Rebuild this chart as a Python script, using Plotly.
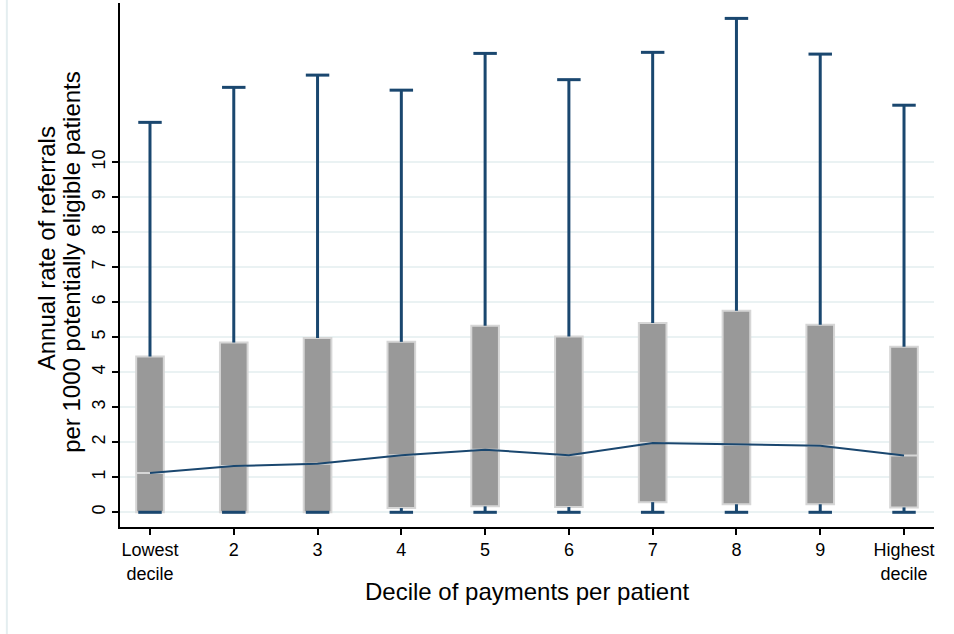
import plotly.graph_objects as go

# ---- data ----
categories = ["Lowest<br>decile", "2", "3", "4", "5", "6", "7", "8", "9", "Highest<br>decile"]
q1_vals = [0.0, 0.0, 0.0, 0.12, 0.17, 0.15, 0.29, 0.23, 0.23, 0.14]
median_vals = [1.12, 1.32, 1.39, 1.63, 1.79, 1.63, 1.98, 1.93, 1.90, 1.62]
q3_vals = [4.45, 4.85, 4.98, 4.87, 5.33, 5.02, 5.41, 5.76, 5.36, 4.73]
upper_vals = [11.14, 12.14, 12.49, 12.06, 13.11, 12.36, 13.14, 14.11, 13.09, 11.63]
lower_vals = [0.0] * 10
y_ticks = list(range(0, 11))
x_title = "Decile of payments per patient"
y_title_lines = ["Annual rate of referrals", "per 1000 potentially eligible patients"]

NAVY = "#1a476f"
FONT = "Liberation Sans, Arial, Helvetica, sans-serif"
positions = list(range(len(categories)))
CAP = 0.14  # half-width of whisker caps (x units)

fig = go.Figure()

# boxes (q1..q3 with median)
fig.add_trace(go.Box(
    x=positions, q1=q1_vals, median=median_vals, q3=q3_vals,
    lowerfence=q1_vals, upperfence=q3_vals,
    width=0.33, whiskerwidth=0, boxpoints=False,
    fillcolor="#999999", line=dict(color="#d6d6d6", width=2),
    hoverinfo="skip", showlegend=False,
))

# whiskers with caps
wx, wy = [], []
for p, lo, a, b, hi in zip(positions, lower_vals, q1_vals, q3_vals, upper_vals):
    wx += [p, p, None, p - CAP, p + CAP, None, p, p, None, p - CAP, p + CAP, None]
    wy += [b, hi, None, hi, hi, None, a, lo, None, lo, lo, None]
fig.add_trace(go.Scatter(
    x=wx, y=wy, mode="lines", line=dict(color=NAVY, width=3),
    hoverinfo="skip", showlegend=False,
))

# median line
fig.add_trace(go.Scatter(
    x=positions, y=median_vals, mode="lines",
    line=dict(color=NAVY, width=2), showlegend=False,
))

fig.update_layout(
    width=954, height=634,
    margin=dict(l=120, r=20, t=3, b=107),
    paper_bgcolor="white", plot_bgcolor="white",
    font=dict(family=FONT, color="black"),
    showlegend=False,
    xaxis=dict(
        range=[-0.358, 9.358], tickmode="array", tickvals=positions, ticktext=categories,
        showgrid=False, zeroline=False, showline=True, linecolor="black", linewidth=1.5,
        ticks="outside", ticklen=6, tickcolor="black", tickwidth=1.5,
        tickfont=dict(size=18, family=FONT), automargin=False,
    ),
    yaxis=dict(
        range=[-0.42, 14.55], tickmode="array", tickvals=y_ticks,
        ticktext=[str(v) for v in y_ticks],
        showgrid=True, gridcolor="#eaf2f3", gridwidth=1.5, zeroline=False,
        showline=True, linecolor="black", linewidth=1.5,
        ticks="outside", ticklen=6, tickcolor="black", tickwidth=1.5,
        tickangle=-90, tickfont=dict(size=18, family=FONT),
        automargin=False,
    ),
    annotations=[
        dict(text=x_title, xref="paper", yref="paper", x=0.5, y=-0.124,
             xanchor="center", yanchor="middle", showarrow=False,
             font=dict(size=24, family=FONT, color="black")),
        dict(text=y_title_lines[0], xref="paper", yref="paper", x=-0.0909, y=0.532,
             xanchor="center", yanchor="middle", textangle=-90, showarrow=False,
             font=dict(size=24, family=FONT, color="black")),
        dict(text=y_title_lines[1], xref="paper", yref="paper", x=-0.059, y=0.506,
             xanchor="center", yanchor="middle", textangle=-90, showarrow=False,
             font=dict(size=24, family=FONT, color="black")),
    ],
    shapes=[dict(type="line", xref="paper", yref="paper",
                 x0=-0.139, x1=-0.139, y0=-0.204, y1=1.006,
                 line=dict(color="#e4eef0", width=2))],
)

fig.write_html("out.html", config={"displayModeBar": False},
               post_script="document.body.style.margin='0';")
